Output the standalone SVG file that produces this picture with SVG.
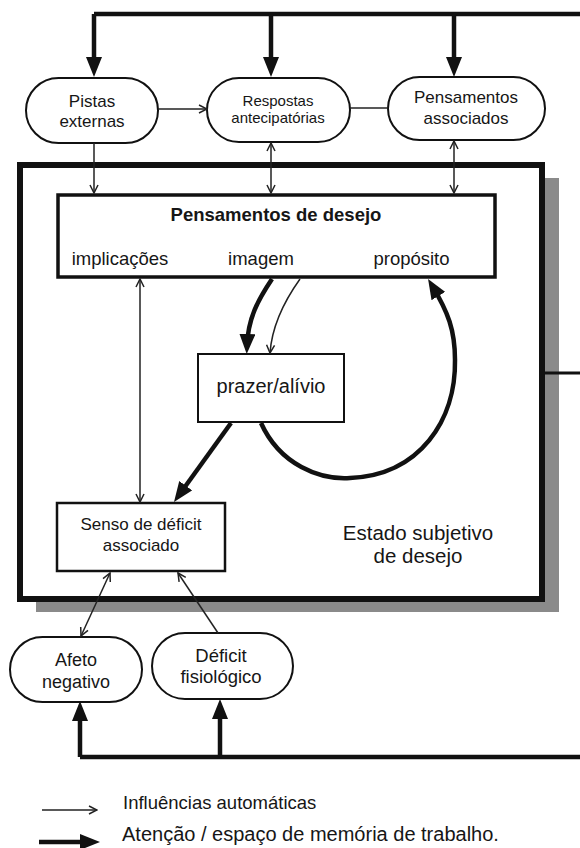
<svg xmlns="http://www.w3.org/2000/svg" width="580" height="848" viewBox="0 0 580 848">
<style>
text{font-family:"Liberation Sans",Arial,sans-serif;fill:#161616;text-anchor:middle}
.box{fill:#fff;stroke:#111}
.thick{fill:none;stroke:#111;stroke-width:4.5}
.thin{fill:none;stroke:#222;stroke-width:1.5}
</style>
<defs>
<marker id="ah" markerUnits="userSpaceOnUse" viewBox="0 0 20 16" markerWidth="20" markerHeight="16" refX="12" refY="8" orient="auto"><path d="M0,0 L20,8 L0,16 z" fill="#111"/></marker>
<marker id="oa" markerUnits="userSpaceOnUse" viewBox="0 0 10 10" markerWidth="10" markerHeight="10" refX="9" refY="5" orient="auto-start-reverse"><path d="M1,1 L9,5 L1,9" fill="none" stroke="#222" stroke-width="1.5"/></marker>
</defs>
<rect x="0" y="0" width="580" height="848" fill="#fff"/>
<g id="estado">
<rect x="36" y="178" width="523" height="434" fill="#8a8a8a"/>
<rect x="20" y="165" width="522" height="434" fill="#fff" stroke="#111" stroke-width="6"/>
<text x="418" y="540" font-size="20.5">Estado subjetivo</text>
<text x="418" y="563" font-size="20.5">de desejo</text>
</g>
<g id="pistas">
<rect class="box" x="26" y="78" width="132" height="65" rx="32.5" stroke-width="2"/>
<text x="92" y="107" font-size="17">Pistas</text>
<text x="92" y="127" font-size="17">externas</text>
</g>
<g id="respostas">
<rect class="box" x="207" y="78" width="143" height="64" rx="32" stroke-width="2"/>
<text x="278" y="106" font-size="15">Respostas</text>
<text x="278" y="123" font-size="15">antecipatórias</text>
</g>
<g id="pensamentos-assoc">
<rect class="box" x="388" y="77" width="157" height="63" rx="31.5" stroke-width="2"/>
<text x="466" y="103" font-size="17">Pensamentos</text>
<text x="466" y="124" font-size="17">associados</text>
</g>
<g id="pensamentos-desejo">
<rect class="box" x="58" y="195" width="437" height="82" stroke-width="3.5"/>
<text x="276" y="221" font-size="18.5" font-weight="bold">Pensamentos de desejo</text>
<text x="120" y="265" font-size="18.5">implicações</text>
<text x="261" y="265" font-size="18.5">imagem</text>
<text x="411.5" y="265" font-size="18.5">propósito</text>
</g>
<g id="prazer">
<rect class="box" x="198" y="354" width="146" height="68" stroke-width="2"/>
<text x="271" y="393" font-size="20">prazer/alívio</text>
</g>
<g id="senso">
<rect class="box" x="57" y="503" width="168" height="68" stroke-width="2.5"/>
<text x="141" y="530" font-size="17">Senso de déficit</text>
<text x="141" y="551" font-size="17">associado</text>
</g>
<g id="afeto">
<rect class="box" x="10" y="637" width="132" height="65" rx="32.5" stroke-width="2"/>
<text x="76" y="666" font-size="18">Afeto</text>
<text x="76" y="688" font-size="18">negativo</text>
</g>
<g id="deficit">
<rect class="box" x="152" y="633" width="141" height="66" rx="33" stroke-width="2"/>
<text x="221" y="662" font-size="18.5">Déficit</text>
<text x="221" y="683" font-size="18.5">fisiológico</text>
</g>
<g id="connectors">
<path class="thick" d="M94 14 H580"/>
<path class="thick" d="M94 14 V69" marker-end="url(#ah)"/>
<path class="thick" d="M271 14 V69" marker-end="url(#ah)"/>
<path class="thick" d="M454 14 V69" marker-end="url(#ah)"/>
<path class="thick" d="M80 757 H580"/>
<path class="thick" d="M80 757 V709" marker-end="url(#ah)"/>
<path class="thick" d="M220 757 V707" marker-end="url(#ah)"/>
<path fill="none" stroke="#111" stroke-width="3" d="M545 373 H580"/>
<path class="thin" d="M158 109 H207" marker-end="url(#oa)"/>
<path class="thin" d="M350 108 H388"/>
<path class="thin" d="M94 143 V193" marker-end="url(#oa)"/>
<path class="thin" d="M271 143 V193" marker-start="url(#oa)" marker-end="url(#oa)"/>
<path class="thin" d="M454 141 V193" marker-start="url(#oa)" marker-end="url(#oa)"/>
<path class="thin" d="M140 279 V502" marker-start="url(#oa)" marker-end="url(#oa)"/>
<path class="thick" stroke-width="5.5" d="M272 279 C258 300 248 318 247 346" marker-end="url(#ah)"/>
<path class="thin" d="M300 279 C285 300 272 325 270 353" marker-end="url(#oa)"/>
<path class="thick" stroke-width="5" d="M261 423 C280 465 320 480 350 478 C420 475 456 420 455 360 C455 330 448 312 432.2 285.8" marker-end="url(#ah)"/>
<path class="thick" stroke-width="6" d="M231 423 L178.7 495.5" marker-end="url(#ah)"/>
<path class="thin" d="M110 573 L81 636" marker-start="url(#oa)" marker-end="url(#oa)"/>
<path class="thin" d="M218 633 L178 573" marker-end="url(#oa)"/>
</g>
<g id="legend">
<path class="thin" d="M42 810 H97" marker-end="url(#oa)"/>
<text x="123" y="809" font-size="18.5" text-anchor="start" style="text-anchor:start">Influências automáticas</text>
<path class="thick" stroke-width="5" d="M39 842 H92" marker-end="url(#ah)"/>
<text x="122" y="841" font-size="20" style="text-anchor:start">Atenção / espaço de memória de trabalho.</text>
</g>
</svg>
